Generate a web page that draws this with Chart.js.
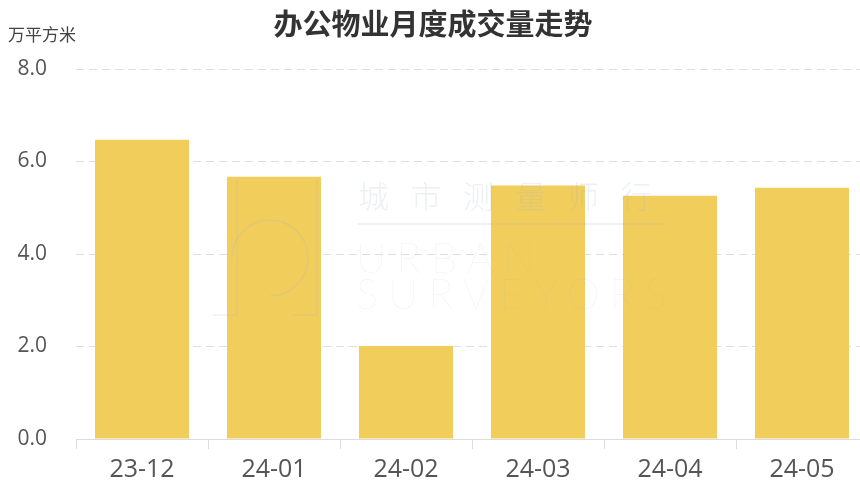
<!DOCTYPE html>
<html>
<head>
<meta charset="utf-8">
<script src="https://cdn.jsdelivr.net/npm/chart.js@4/dist/chart.umd.min.js"></script>
<style>
  html, body { margin: 0; padding: 0; background: #fff; overflow: hidden; }
  #wrap { width: 870px; height: 488px; }
</style>
</head>
<body>
<div id="wrap"><canvas id="chart" width="870" height="488"></canvas></div>
<script>
// chart data
const months = ["23-12", "24-01", "24-02", "24-03", "24-04", "24-05"];
const volumes = [6.47, 5.67, 2.01, 5.48, 5.26, 5.43]; // 万平方米
const yTicks = [0, 2, 4, 6, 8];

const titleText = "办公物业月度成交量走势";
const unitText = "万平方米";

const cjk = '"Noto Sans CJK SC", "Noto Sans", sans-serif';
const latin = '"Open Sans", "Noto Sans", sans-serif';

// title, unit label and the faint watermark
const decorations = {
  id: "decorations",
  afterDatasetsDraw(chart) {
    const ctx = chart.ctx;
    ctx.save();
    // watermark, drawn over the bars
    ctx.fillStyle = "rgba(170,180,205,0.22)";
    ctx.strokeStyle = "rgba(170,180,205,0.20)";
    ctx.textBaseline = "middle";
    ctx.textAlign = "left";
    ctx.font = "300 31px " + cjk;
    const wm = "城市测量师行";
    for (let i = 0; i < wm.length; i++) {
      ctx.fillText(wm[i], 358 + i * 52.5, 196);
    }
    ctx.lineWidth = 2;
    ctx.beginPath();
    ctx.moveTo(358, 224);
    ctx.lineTo(664, 224);
    ctx.stroke();
    ctx.font = "200 42px Lato, sans-serif";
    ctx.letterSpacing = "10px";
    ctx.fillText("URBAN", 356, 259);
    ctx.fillText("SURVEYORS", 356, 295);
    ctx.letterSpacing = "0px";
    // logo outline left of the text
    ctx.lineWidth = 1.5;
    ctx.beginPath();
    ctx.moveTo(237, 180); ctx.lineTo(237, 315); ctx.lineTo(213, 315);
    ctx.moveTo(317, 180); ctx.lineTo(317, 315); ctx.lineTo(293, 315);
    ctx.stroke();
    ctx.beginPath();
    ctx.arc(270, 258, 38, Math.PI, Math.PI * 2.5);
    ctx.stroke();
    ctx.restore();
  },
  afterDraw(chart) {
    const ctx = chart.ctx;
    ctx.save();
    ctx.textBaseline = "middle";
    ctx.textAlign = "center";
    ctx.fillStyle = "#333";
    ctx.font = "bold 29px " + cjk;
    ctx.fillText(titleText, 433, 24);
    ctx.textAlign = "left";
    ctx.fillStyle = "#444";
    ctx.font = "17px " + cjk;
    ctx.fillText(unitText, 8, 35);
    ctx.restore();
  }
};

new Chart(document.getElementById("chart"), {
  type: "bar",
  data: {
    labels: months,
    datasets: [{
      data: volumes,
      backgroundColor: "#F1CD5B",
      borderWidth: 0,
      categoryPercentage: 1,
      barPercentage: 0.712
    }]
  },
  options: {
    responsive: false,
    animation: false,
    devicePixelRatio: 1,
    layout: { padding: { left: 0, right: 2, top: 69, bottom: 0 } },
    plugins: {
      legend: { display: false },
      tooltip: { enabled: false }
    },
    scales: {
      x: {
        grid: {
          display: true,
          drawOnChartArea: false,
          color: "#dcdcdc",
          tickLength: 10
        },
        border: { display: true, color: "#dcdcdc", width: 1 },
        ticks: {
          color: "#555",
          padding: 6,
          font: { family: latin, size: 25 }
        },
        afterFit(scale) { scale.height = 49; }
      },
      y: {
        min: 0,
        max: 8,
        afterBuildTicks(scale) {
          scale.ticks = yTicks.map((v) => ({ value: v }));
        },
        grid: {
          color: "#dedede",
          drawTicks: false
        },
        border: { display: false, dash: [8, 5] },
        ticks: {
          color: "#555",
          padding: 29,
          font: { family: latin, size: 21 },
          callback: (v) => Number(v).toFixed(1)
        },
        afterFit(scale) { scale.width = 76; }
      }
    }
  },
  plugins: [decorations]
});
</script>
</body>
</html>
